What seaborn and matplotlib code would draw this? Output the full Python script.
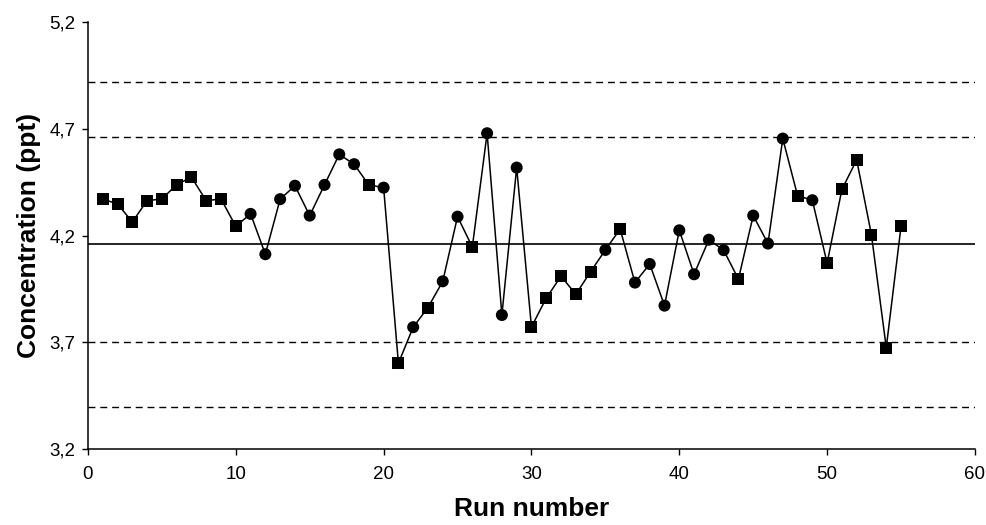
import numpy as np
import pandas as pd
import matplotlib
matplotlib.use("Agg")
import matplotlib.pyplot as plt
import seaborn as sns
from matplotlib.ticker import FuncFormatter

# run number, concentration (ppt) and marker type
runs = list(range(1, 56))
conc = [4.371, 4.349, 4.264, 4.364, 4.372, 4.439, 4.474, 4.364, 4.372, 4.244,
        4.302, 4.113, 4.371, 4.434, 4.294, 4.438, 4.581, 4.535, 4.438, 4.425,
        3.602, 3.771, 3.863, 3.986, 4.289, 4.147, 4.680, 3.828, 4.519, 3.772,
        3.907, 4.010, 3.925, 4.031, 4.133, 4.231, 3.980, 4.067, 3.872, 4.225,
        4.019, 4.181, 4.132, 3.996, 4.294, 4.163, 4.655, 4.388, 4.366, 4.071,
        4.417, 4.555, 4.203, 3.675, 4.244]
kind = ["sq"] * 10 + ["ci"] * 8 + ["sq", "ci", "sq", "ci", "sq", "ci", "ci", "sq",
        "ci", "ci", "ci", "sq", "sq", "sq", "sq", "sq", "ci", "sq", "ci", "ci",
        "ci", "ci", "ci", "ci", "ci", "sq", "ci", "ci", "ci", "sq", "ci", "sq",
        "sq", "sq", "sq", "sq", "sq"]

center = 4.163
warn_lim = [3.700, 4.664]
ctrl_lim = [3.397, 4.920]

df = pd.DataFrame({"run": runs, "conc": conc, "kind": kind})

sns.set_style("ticks")
plt.rcParams["font.family"] = ["Liberation Sans", "DejaVu Sans"]
plt.rcParams.update({"text.color": "black", "axes.labelcolor": "black",
                     "xtick.color": "black", "ytick.color": "black"})

fig = plt.figure(figsize=(9.86, 5.25), dpi=100)
ax = fig.add_axes([0.0892, 0.1448, 0.8996, 0.8127])

for y in ctrl_lim + warn_lim:
    ax.axhline(y, color="black", lw=1.0, ls=(0, (5, 3.5)))
ax.axhline(center, color="black", lw=1.2)

sns.lineplot(data=df, x="run", y="conc", color="black", lw=1.1, ax=ax)
sns.scatterplot(data=df, x="run", y="conc", style="kind",
                markers={"sq": "s", "ci": "o"}, s=75, color="black",
                edgecolor="black", linewidth=0, legend=False, ax=ax, zorder=3)

ax.set_xlim(0, 60)
ax.set_ylim(3.2, 5.2)
ax.set_xticks(np.arange(0, 61, 10))
ax.set_yticks([3.2, 3.7, 4.2, 4.7, 5.2])
ax.yaxis.set_major_formatter(FuncFormatter(lambda v, p: f"{v:.1f}".replace(".", ",")))
ax.tick_params(labelsize=13.5, length=4.5, width=1)
ax.tick_params(axis="y", pad=4.5)
ax.tick_params(axis="x", pad=8)
for s in ["left", "bottom"]:
    ax.spines[s].set_color("black")
    ax.spines[s].set_linewidth(1.1)
sns.despine(ax=ax)

ax.set_xlabel("Run number", fontsize=19, fontweight="bold", labelpad=10)
ax.set_ylabel("Concentration (ppt)", fontsize=19, fontweight="bold", labelpad=6)

fig.savefig("out.png", dpi=100)
